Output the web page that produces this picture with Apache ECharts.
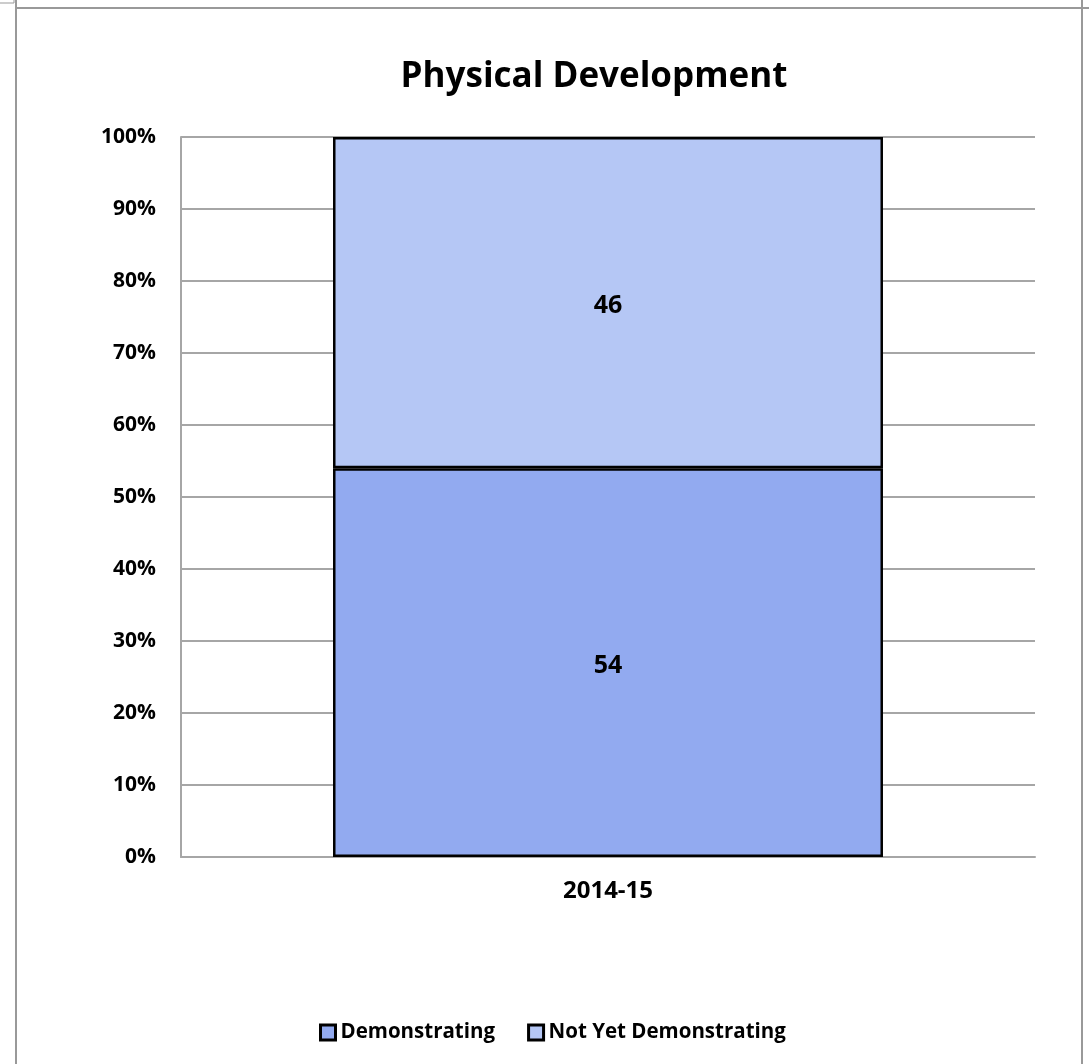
<!DOCTYPE html>
<html>
<head>
<meta charset="utf-8">
<script src="https://cdn.jsdelivr.net/npm/echarts@6/dist/echarts.min.js"></script>
<style>
  html, body { margin: 0; padding: 0; background: #fff; }
  #chart { width: 1089px; height: 1064px; }
</style>
</head>
<body>
<div id="chart"></div>
<script>
// Share of children by development status, school year 2014-15
const categories = ['2014-15'];
const demonstrating = [54];
const notYetDemonstrating = [46];
const yTicks = [0, 10, 20, 30, 40, 50, 60, 70, 80, 90, 100];

const FONT = '"Open Sans", "Liberation Sans", sans-serif';
const chart = echarts.init(document.getElementById('chart'), null, { renderer: 'canvas' });

const labelStyle = {
  show: true,
  position: 'inside',
  offset: [0, 3],
  color: '#000',
  fontFamily: FONT,
  fontWeight: 'bold',
  fontSize: 25
};

chart.setOption({
  backgroundColor: '#fff',
  animation: false,
  title: {
    text: 'Physical Development',
    left: 589,
    textAlign: 'center',
    top: 55,
    textStyle: { fontFamily: FONT, fontWeight: 'bold', fontSize: 35, color: '#000' }
  },
  legend: {
    left: 314,
    top: 1017,
    itemGap: 32,
    itemWidth: 15,
    itemHeight: 15,
    icon: 'rect',
    textStyle: { fontFamily: FONT, fontWeight: 'bold', fontSize: 20.5, color: '#000', padding: [0, 0, 0, 0] },
    data: [
      { name: 'Demonstrating', itemStyle: { borderColor: '#000', borderWidth: 3 } },
      { name: 'Not Yet Demonstrating', itemStyle: { borderColor: '#000', borderWidth: 3 } }
    ]
  },
  grid: { left: 181, right: 54, top: 137, bottom: 207, containLabel: false },
  xAxis: {
    type: 'category',
    data: categories,
    axisLine: { lineStyle: { color: '#a6a6a6', width: 2 } },
    axisTick: { show: false },
    axisLabel: { margin: 22, color: '#000', fontFamily: FONT, fontWeight: 'bold', fontSize: 24 }
  },
  yAxis: {
    type: 'value',
    min: yTicks[0],
    max: yTicks[yTicks.length - 1],
    interval: 10,
    axisLine: { show: true, lineStyle: { color: '#a6a6a6', width: 2 } },
    axisTick: { show: false },
    splitLine: { lineStyle: { color: '#a6a6a6', width: 2 } },
    axisLabel: {
      margin: 25,
      color: '#000',
      fontFamily: FONT,
      fontWeight: 'bold',
      fontSize: 21,
      formatter: v => v + '%'
    }
  },
  series: [
    {
      name: 'Demonstrating',
      type: 'bar',
      stack: 'total',
      barWidth: '64.4%',
      data: demonstrating,
      itemStyle: { color: '#92aaf0', borderColor: '#000', borderWidth: 2.5 },
      label: labelStyle
    },
    {
      name: 'Not Yet Demonstrating',
      type: 'bar',
      stack: 'total',
      data: notYetDemonstrating,
      itemStyle: { color: '#b5c7f5', borderColor: '#000', borderWidth: 2.5 },
      label: labelStyle
    }
  ],
  graphic: [
    // page frame around the chart
    { type: 'line', shape: { x1: 16, y1: 8, x2: 1089, y2: 8 }, style: { stroke: '#999', lineWidth: 2 } },
    { type: 'line', shape: { x1: 16, y1: 0, x2: 16, y2: 1064 }, style: { stroke: '#999', lineWidth: 2 } },
    { type: 'line', shape: { x1: 1082, y1: 0, x2: 1082, y2: 1064 }, style: { stroke: '#999', lineWidth: 2 } },
    { type: 'rect', shape: { x: -1, y: -1, width: 15, height: 4 }, style: { fill: 'none', stroke: '#999', lineWidth: 1 } }
  ]
});
</script>
</body>
</html>
